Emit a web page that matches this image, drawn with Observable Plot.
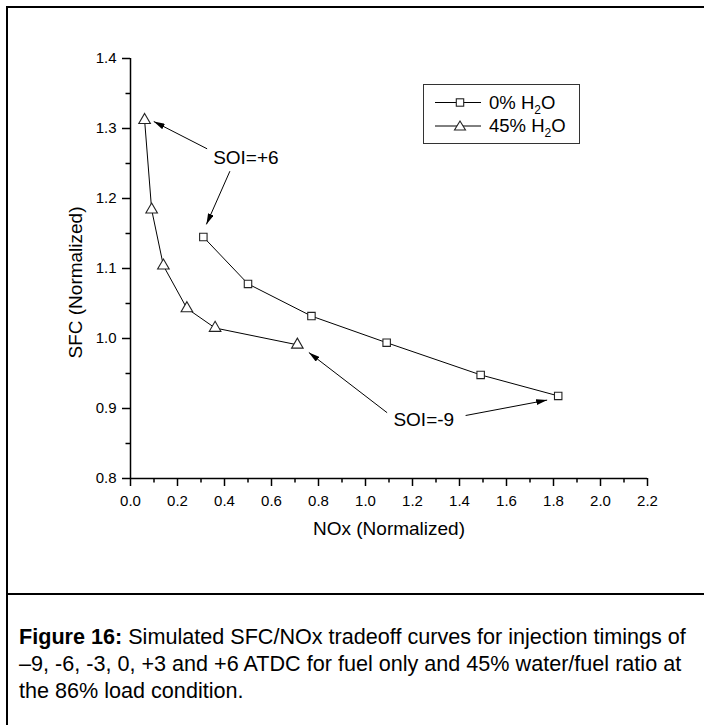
<!DOCTYPE html>
<html>
<head>
<meta charset="utf-8">
<script src="https://cdn.jsdelivr.net/npm/d3@7"></script>
<script src="https://cdn.jsdelivr.net/npm/@observablehq/plot@0.6"></script>
<style>
  html, body { margin: 0; padding: 0; background: #fff; }
  body { width: 704px; height: 725px; position: relative; overflow: hidden; font-family: "Liberation Sans", Arial, sans-serif; }
  #frame { position: absolute; left: 6px; top: 6px; width: 720px; height: 740px; border-left: 2px solid #000; border-top: 2px solid #000; }
  #sep { position: absolute; left: 6px; top: 593px; width: 710px; border-top: 2px solid #000; }
  #chart { position: absolute; left: 0; top: 0; }
  #legend { position: absolute; left: 423px; top: 84px; width: 157px; height: 60px; border: 1px solid #333; box-sizing: border-box; }
  #legend svg { position: absolute; left: 0; top: 0; }
  #caption { position: absolute; left: 19px; top: 623px; font-size: 21.6px; line-height: 27px; color: #000; white-space: nowrap; }
</style>
</head>
<body>
<div id="chart"></div>
<div id="frame"></div>
<div id="sep"></div>
<div id="legend"></div>
<div id="caption"><b>Figure 16:</b> Simulated SFC/NOx tradeoff curves for injection timings of<br>–9, -6, -3, 0, +3 and +6 ATDC for fuel only and 45% water/fuel ratio at<br>the 86% load condition.</div>
<script>
// ---- data ----
const series0Name = "0% H2O";
const nox0 = [0.31, 0.50, 0.77, 1.09, 1.49, 1.82];
const sfc0 = [1.145, 1.078, 1.032, 0.994, 0.948, 0.918];

const series45Name = "45% H2O";
const nox45 = [0.06, 0.09, 0.14, 0.24, 0.36, 0.71];
const sfc45 = [1.312, 1.184, 1.104, 1.043, 1.015, 0.991];

const xTicks = [0, 0.2, 0.4, 0.6, 0.8, 1.0, 1.2, 1.4, 1.6, 1.8, 2.0, 2.2];
const xMinorTicks = [0.1, 0.3, 0.5, 0.7, 0.9, 1.1, 1.3, 1.5, 1.7, 1.9, 2.1];
const yTicks = [0.8, 0.9, 1.0, 1.1, 1.2, 1.3, 1.4];
const yMinorTicks = [0.85, 0.95, 1.05, 1.15, 1.25, 1.35];

const xLabel = "NOx (Normalized)";
const yLabel = "SFC (Normalized)";

// annotations (data coordinates)
const annLabels = ["SOI=+6", "SOI=-9"];
const annX = [0.491, 1.248];
const annY = [1.2586, 0.884];
const arrowX1 = [0.326, 0.423, 1.092, 1.426];
const arrowY1 = [1.271, 1.239, 0.894, 0.890];
const arrowX2 = [0.099, 0.323, 0.759, 1.773];
const arrowY2 = [1.310, 1.163, 0.980, 0.912];

// ---- build tables ----
const d0 = nox0.map((x, i) => ({x, y: sfc0[i]}));
const d45 = nox45.map((x, i) => ({x, y: sfc45[i]}));
const anns = annLabels.map((t, i) => ({t, x: annX[i], y: annY[i]}));
const arrows = arrowX1.map((x1, i) => ({x1, y1: arrowY1[i], x2: arrowX2[i], y2: arrowY2[i]}));

const FONT = "'Liberation Sans', Arial, sans-serif";

const chart = Plot.plot({
  width: 704,
  height: 600,
  marginLeft: 130,
  marginRight: 57,
  marginTop: 58,
  marginBottom: 122,
  style: {fontFamily: FONT, fontSize: "15px", color: "#000", background: "transparent", overflow: "visible"},
  x: {domain: [0, 2.2]},
  y: {domain: [0.8, 1.4]},
  marks: [
    Plot.axisX(xMinorTicks, {tickSize: 4.5, tickFormat: () => "", label: null, strokeWidth: 1.5}),
    Plot.axisX(xTicks, {tickSize: 8, tickPadding: 9, tickFormat: d => d.toFixed(1), label: null, strokeWidth: 1.5, fontSize: 15}),
    Plot.axisY(yMinorTicks, {tickSize: 4.5, tickFormat: () => "", label: null, strokeWidth: 1.5}),
    Plot.axisY(yTicks, {tickSize: 8, tickPadding: 6, tickFormat: d => d.toFixed(1), label: null, strokeWidth: 1.5, fontSize: 15}),
    Plot.ruleY([0.8], {stroke: "#000", strokeWidth: 1.5}),
    Plot.ruleX([0], {stroke: "#000", strokeWidth: 1.5}),
    Plot.text([xLabel], {frameAnchor: "bottom", dy: 56, textAnchor: "middle", lineAnchor: "bottom", fontSize: 19, fill: "#000"}),
    Plot.text([yLabel], {frameAnchor: "left", dx: -55, dy: 14, rotate: -90, textAnchor: "middle", lineAnchor: "middle", fontSize: 19, fill: "#000"}),
    Plot.line(d0, {x: "x", y: "y", stroke: "#000", strokeWidth: 1}),
    Plot.line(d45, {x: "x", y: "y", stroke: "#000", strokeWidth: 1}),
    Plot.dot(d0, {x: "x", y: "y", symbol: "square", r: 4.2, fill: "#fff", stroke: "#222", strokeWidth: 1.1}),
    Plot.dot(d45, {x: "x", y: "y", symbol: "triangle", r: 4.3, fill: "#fff", stroke: "#222", strokeWidth: 1.1}),
    Plot.link(arrows, {x1: "x1", y1: "y1", x2: "x2", y2: "y2", stroke: "#000", strokeWidth: 1}),
    Plot.text(anns, {x: "x", y: "y", text: "t", fontSize: 19, fill: "#000", textAnchor: "middle", lineAnchor: "middle"})
  ]
});
document.getElementById("chart").appendChild(chart);

// filled arrowheads for the annotation links
const ns = "http://www.w3.org/2000/svg";
const defs = document.createElementNS(ns, "defs");
defs.innerHTML = '<marker id="ahead" viewBox="0 0 11 6" refX="11" refY="3" markerWidth="11" markerHeight="6" orient="auto" markerUnits="userSpaceOnUse"><path d="M0,0L11,3L0,6z" fill="#000"/></marker>';
chart.insertBefore(defs, chart.firstChild);
chart.querySelectorAll('g[aria-label="link"] path').forEach(p => p.setAttribute("marker-end", "url(#ahead)"));

// legend
const leg = document.getElementById("legend");
leg.innerHTML = `
<svg width="157" height="60">
  <line x1="11" y1="17.5" x2="57" y2="17.5" stroke="#000" stroke-width="1"/>
  <rect x="32.3" y="13.8" width="7.4" height="7.4" fill="#fff" stroke="#222" stroke-width="1.1"/>
  <text x="65" y="23.5" font-size="18.5" font-family="${FONT}">0% H<tspan font-size="12" dy="5">2</tspan><tspan dy="-5">O</tspan></text>
  <line x1="11" y1="41" x2="57" y2="41" stroke="#000" stroke-width="1"/>
  <path d="M36,36 L41.5,45 L30.5,45 Z" fill="#fff" stroke="#222" stroke-width="1.1"/>
  <text x="65" y="47" font-size="18.5" font-family="${FONT}">45% H<tspan font-size="12" dy="5">2</tspan><tspan dy="-5">O</tspan></text>
</svg>`;
</script>
</body>
</html>
